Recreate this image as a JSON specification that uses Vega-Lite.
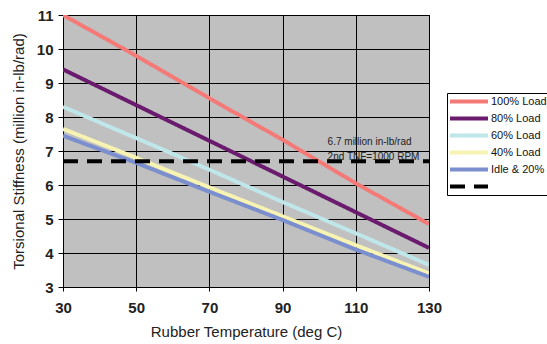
{
  "$schema": "https://vega.github.io/schema/vega-lite/v6.json",
  "width": 366,
  "height": 272,
  "autosize": {"type": "none"},
  "padding": {"left": 63, "top": 15, "right": 118, "bottom": 57},
  "background": "white",
  "config": {
    "font": "Liberation Sans",
    "view": {"fill": "#c0c0c0", "stroke": "black", "strokeWidth": 1}
  },
  "datasets": {
    "lines": [
      {"temp": 30, "stiff": 11.0, "series": "100% Load"},
      {"temp": 50, "stiff": 9.8, "series": "100% Load"},
      {"temp": 70, "stiff": 8.55, "series": "100% Load"},
      {"temp": 90, "stiff": 7.33, "series": "100% Load"},
      {"temp": 110, "stiff": 6.05, "series": "100% Load"},
      {"temp": 130, "stiff": 4.85, "series": "100% Load"},
      {"temp": 30, "stiff": 9.4, "series": "80% Load"},
      {"temp": 50, "stiff": 8.35, "series": "80% Load"},
      {"temp": 70, "stiff": 7.3, "series": "80% Load"},
      {"temp": 90, "stiff": 6.25, "series": "80% Load"},
      {"temp": 110, "stiff": 5.2, "series": "80% Load"},
      {"temp": 130, "stiff": 4.15, "series": "80% Load"},
      {"temp": 30, "stiff": 8.3, "series": "60% Load"},
      {"temp": 50, "stiff": 7.38, "series": "60% Load"},
      {"temp": 70, "stiff": 6.45, "series": "60% Load"},
      {"temp": 90, "stiff": 5.5, "series": "60% Load"},
      {"temp": 110, "stiff": 4.58, "series": "60% Load"},
      {"temp": 130, "stiff": 3.65, "series": "60% Load"},
      {"temp": 30, "stiff": 7.65, "series": "40% Load"},
      {"temp": 50, "stiff": 6.8, "series": "40% Load"},
      {"temp": 70, "stiff": 5.93, "series": "40% Load"},
      {"temp": 90, "stiff": 5.08, "series": "40% Load"},
      {"temp": 110, "stiff": 4.23, "series": "40% Load"},
      {"temp": 130, "stiff": 3.4, "series": "40% Load"},
      {"temp": 30, "stiff": 7.45, "series": "Idle & 20%"},
      {"temp": 50, "stiff": 6.65, "series": "Idle & 20%"},
      {"temp": 70, "stiff": 5.8, "series": "Idle & 20%"},
      {"temp": 90, "stiff": 4.97, "series": "Idle & 20%"},
      {"temp": 110, "stiff": 4.1, "series": "Idle & 20%"},
      {"temp": 130, "stiff": 3.3, "series": "Idle & 20%"},
      {"temp": 30, "stiff": 6.7, "series": "TNF"},
      {"temp": 130, "stiff": 6.7, "series": "TNF"}
    ],
    "notes": [
      {"temp": 102.3, "stiff": 7.27, "text": "6.7 million in-lb/rad"},
      {"temp": 102.3, "stiff": 6.83, "text": "2nd TNF=1000 RPM"}
    ]
  },
  "encoding": {
    "x": {
      "field": "temp", "type": "quantitative",
      "scale": {"domain": [30, 130], "nice": false},
      "axis": {
        "values": [30, 50, 70, 90, 110, 130],
        "title": "Rubber Temperature (deg C)",
        "titleFontSize": 15, "titleFontWeight": "normal", "titleColor": "#222",
        "titlePadding": 9,
        "labelFontSize": 15, "labelFontWeight": "bold", "labelColor": "#222", "labelPadding": 9,
        "labelOverlap": false, "labelBound": false, "labelFlush": false,
        "grid": true, "gridColor": "black", "gridOpacity": 1, "gridWidth": 1,
        "domain": false, "tickColor": "black", "tickSize": 4
      }
    },
    "y": {
      "field": "stiff", "type": "quantitative",
      "scale": {"domain": [3, 11], "nice": false},
      "axis": {
        "values": [3, 4, 5, 6, 7, 8, 9, 10, 11],
        "title": "Torsional Stiffness (million in-lb/rad)",
        "titleFontSize": 15, "titleFontWeight": "normal", "titleColor": "#222",
        "titlePadding": 10,
        "labelFontSize": 15, "labelFontWeight": "bold", "labelColor": "#222", "labelPadding": 5,
        "labelOverlap": false, "labelBound": false, "labelFlush": false,
        "grid": true, "gridColor": "black", "gridOpacity": 1, "gridWidth": 1,
        "domain": false, "tickColor": "black", "tickSize": 5
      }
    }
  },
  "layer": [
    {
      "data": {"name": "lines"},
      "mark": {"type": "line", "strokeWidth": 4, "clip": true},
      "encoding": {
        "detail": {"field": "series"},
        "color": {
          "field": "series", "type": "nominal",
          "scale": {
            "domain": ["100% Load", "80% Load", "60% Load", "40% Load", "Idle & 20%", "TNF"],
            "range": ["#f47a78", "#6a1b6e", "#bfe6e8", "#f7f3b2", "#7b8fcf", "#000000"]
          },
          "legend": {
            "title": null,
            "orient": "none",
            "legendX": 384,
            "legendY": 78,
            "symbolType": "stroke",
            "symbolSize": 1444,
            "symbolStrokeWidth": 4,
            "labelFontSize": 11,
            "labelColor": "#111",
            "labelOffset": 1,
            "rowPadding": 2,
            "clipHeight": 15,
            "strokeColor": "black",
            "padding": 1,
            "labelExpr": "datum.label == 'TNF' ? '' : datum.label"
          }
        },
        "strokeDash": {
          "field": "series", "type": "nominal",
          "scale": {
            "domain": ["100% Load", "80% Load", "60% Load", "40% Load", "Idle & 20%", "TNF"],
            "range": [[1, 0], [1, 0], [1, 0], [1, 0], [1, 0], [15, 9]]
          },
          "legend": null
        }
      }
    },
    {
      "data": {"name": "notes"},
      "mark": {"type": "text", "align": "left", "baseline": "middle", "fontSize": 10, "color": "#222"},
      "encoding": {
        "text": {"field": "text"}
      }
    }
  ]
}
